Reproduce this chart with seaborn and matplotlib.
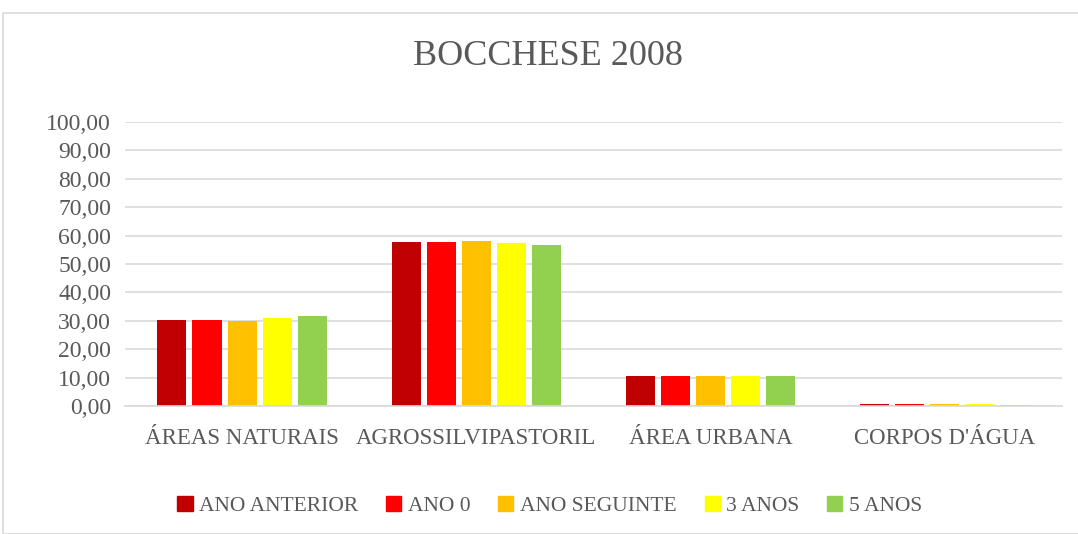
import pandas as pd
import numpy as np
import matplotlib
matplotlib.use('Agg')
import matplotlib.pyplot as plt
import matplotlib.patches as mpatches
import seaborn as sns

categorias = ['ÁREAS NATURAIS', 'AGROSSILVIPASTORIL', 'ÁREA URBANA', "CORPOS D'ÁGUA"]
series = ['ANO ANTERIOR', 'ANO 0', 'ANO SEGUINTE', '3 ANOS', '5 ANOS']
ano_anterior = [30.3, 57.6, 10.7, 0.7]
ano_0 = [30.3, 57.7, 10.7, 0.7]
ano_seguinte = [30.1, 58.1, 10.5, 0.7]
tres_anos = [31.0, 57.3, 10.5, 0.6]
cinco_anos = [31.8, 56.8, 10.4, 0.5]
cores = ['#C00000', '#FF0000', '#FFC000', '#FFFF00', '#92D050']

valores = [ano_anterior, ano_0, ano_seguinte, tres_anos, cinco_anos]
linhas = []
for s, vals in zip(series, valores):
    for c, v in zip(categorias, vals):
        linhas.append({'categoria': c, 'serie': s, 'valor': v})
df = pd.DataFrame(linhas)

sns.set_style('white')
plt.rcParams['font.family'] = ['Liberation Serif', 'DejaVu Serif']
cinza = '#595959'

fig = plt.figure(figsize=(10.78, 5.34), dpi=100)
ax = fig.add_axes([0.116, 0.2397, 0.869, 0.5318])
sns.barplot(data=df, x='categoria', y='valor', hue='serie', order=categorias,
            hue_order=series, palette=cores, width=0.75, ax=ax, saturation=1,
            legend=False)

# estreitar as barras para deixar o espaço entre elas
for p in ax.patches:
    w = p.get_width()
    nw = w * 0.83
    p.set_x(p.get_x() + (w - nw) / 2)
    p.set_width(nw)
    p.set_edgecolor('none')

ax.set_ylim(0, 100)
ax.set_xlim(-0.5, 3.5)
ax.set_yticks(np.arange(0, 101, 10))
ax.set_yticklabels([f'{v:.2f}'.replace('.', ',') for v in np.arange(0, 101, 10)])
ax.yaxis.grid(True, color='#d9d9d9', linewidth=1.2)
ax.set_axisbelow(True)
for s in ['top', 'right', 'left']:
    ax.spines[s].set_visible(False)
ax.spines['bottom'].set_color('#d9d9d9')
ax.spines['bottom'].set_linewidth(1.2)
ax.tick_params(axis='y', length=0, labelsize=17, colors=cinza, pad=10)
ax.tick_params(axis='x', length=0, labelsize=16.5, colors=cinza, pad=16)
ax.set_xlabel('')
ax.set_ylabel('')

fig.text(0.508, 0.895, 'BOCCHESE 2008', ha='center', va='center', fontsize=26, color=cinza)

handles = [mpatches.Patch(color=c, label=s) for s, c in zip(series, cores)]
fig.legend(handles=handles, loc='center', bbox_to_anchor=(0.51, 0.052), ncol=5,
           frameon=False, fontsize=15.5, handlelength=0.7, handleheight=0.7,
           handletextpad=0.3, columnspacing=1.3, labelcolor=cinza)

borda = mpatches.Rectangle((3 / 1078, 0.0), 1.2, 1 - 13 / 534, transform=fig.transFigure,
                           fill=False, edgecolor='#d9d9d9', linewidth=1.2)
fig.patches.append(borda)

fig.savefig('out.png', dpi=100)
